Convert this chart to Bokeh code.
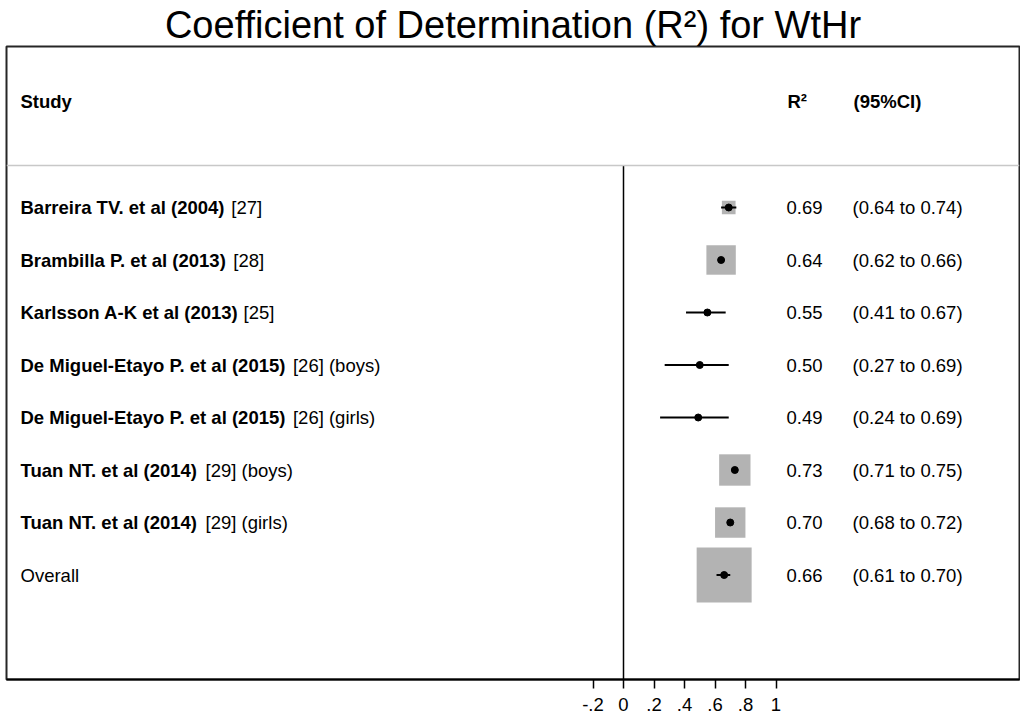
from bokeh.plotting import figure
from bokeh.models import ColumnDataSource, Range1d, Span, FixedTicker
from bokeh.core.properties import value
from bokeh.embed import file_html
from bokeh.resources import INLINE

# ---------------- data ----------------
study_names = ["Barreira TV. et al (2004)", "Brambilla P. et al (2013)",
               "Karlsson A-K et al (2013)", "De Miguel-Etayo P. et al (2015)",
               "De Miguel-Etayo P. et al (2015)", "Tuan NT. et al (2014)",
               "Tuan NT. et al (2014)"]
study_refs = ["[27]", "[28]", "[25]", "[26] (boys)", "[26] (girls)",
              "[29] (boys)", "[29] (girls)"]
r2 = [0.69, 0.64, 0.55, 0.50, 0.49, 0.73, 0.70]
ci_low = [0.64, 0.62, 0.41, 0.27, 0.24, 0.71, 0.68]
ci_high = [0.74, 0.66, 0.67, 0.69, 0.69, 0.75, 0.72]
weights = [6.2, 28.6, 1.1, 0.5, 0.5, 32.5, 30.5]   # percent weights
overall_label = "Overall"
overall_r2 = 0.66
overall_low = 0.61
overall_high = 0.70
overall_weight = 100.0
tick_values = [-0.2, 0, 0.2, 0.4, 0.6, 0.8, 1]
tick_labels = ["-.2", "0", ".2", ".4", ".6", ".8", "1"]
title_text = "Coefficient of Determination (R\u00b2) for WtHr"

# ---------------- layout helpers ----------------
FONT = "Liberation Sans"
FS = 18.5
W, H = 1020, 716
FRAME_L, FRAME_R = 6, 1019       # page px
FRAME_T, FRAME_B = 46, 679
ZERO_PX, PX_PER_UNIT = 623, 152.5
ROW1_PX, ROW_STEP = 207, 52.5

def xd(px):
    return (px - ZERO_PX) / PX_PER_UNIT

def yd(px):
    return 1 + (px - ROW1_PX) / ROW_STEP

BOLD_W = {" ": 278, "(": 333, ")": 333, "-": 333, ".": 278,
          "A": 722, "B": 722, "D": 722, "E": 667, "K": 722, "M": 833, "N": 722,
          "P": 667, "T": 611, "V": 667, "a": 556, "b": 611, "e": 556, "g": 611,
          "i": 278, "l": 278, "m": 889, "n": 611, "o": 611, "r": 389, "s": 556,
          "t": 333, "u": 611, "y": 556}
for d in "0123456789":
    BOLD_W[d] = 556

def bold_width(s):
    return sum(BOLD_W.get(c, 600) for c in s) * FS / 1000.0

n = len(r2)
rows = [i + 1 for i in range(n)]
overall_row = n + 1

p = figure(width=W, height=H, output_backend="svg", toolbar_location=None,
           x_range=Range1d(xd(FRAME_L), xd(FRAME_R)),
           y_range=Range1d(yd(FRAME_B), yd(FRAME_T)),
           y_axis_location=None, min_border_left=FRAME_L, min_border_right=W - FRAME_R,
           min_border_top=FRAME_T, min_border_bottom=H - FRAME_B)
p.title.text = title_text
p.title.align = "center"
p.title.text_font = FONT
p.title.text_font_size = "38px"
p.title.text_font_style = "normal"
p.title.text_color = "black"
p.title.standoff = 1

p.grid.visible = False
p.outline_line_color = "#262626"
p.outline_line_width = 2
p.background_fill_color = "white"
p.border_fill_color = "white"

ax = p.xaxis[0]
ax.ticker = FixedTicker(ticks=tick_values)
ax.major_label_overrides = {v: l for v, l in zip(tick_values, tick_labels)}
ax.major_tick_out = 9
ax.major_tick_in = 0
ax.minor_tick_out = 0
ax.minor_tick_in = 0
ax.major_tick_line_width = 1.5
ax.major_tick_line_color = "black"
ax.axis_line_color = "black"
ax.axis_line_width = 2
ax.major_label_standoff = 9
ax.major_label_text_font = FONT
ax.major_label_text_font_size = "18.5px"
ax.major_label_text_color = "black"

# header separator and zero line
sep_y = yd(165)
p.add_layout(Span(location=sep_y, dimension="width", line_color="#c8c8c8", line_width=1.5))
p.segment(x0=[0], y0=[sep_y], x1=[0], y1=[yd(FRAME_B)], line_color="black", line_width=1.5)

# weight boxes
box_src = ColumnDataSource(dict(x=r2 + [overall_r2], y=rows + [overall_row],
                                s=[5.5 * w ** 0.5 for w in weights + [overall_weight]]))
p.scatter("x", "y", size="s", marker="square", source=box_src,
          fill_color="#b3b3b3", line_color=None)

# CI lines and points
ci_src = ColumnDataSource(dict(x0=ci_low + [overall_low], x1=ci_high + [overall_high],
                               y=rows + [overall_row], x=r2 + [overall_r2]))
p.segment("x0", "y", "x1", "y", source=ci_src, line_color="black", line_width=2)
p.scatter("x", "y", size=7, marker="circle", source=ci_src,
          fill_color="black", line_color="black")

# header
hdr = ColumnDataSource(dict(x=[xd(20), xd(787), xd(853)], y=[yd(101)] * 3,
                            t=["Study", "R\u00b2", "(95%CI)"]))
p.text("x", "y", text="t", source=hdr, text_font=value(FONT), text_font_size=f"{FS}px",
       text_font_style="bold", text_baseline="middle", text_align="left", text_color="black")

# study labels (bold part + regular part)
lab_src = ColumnDataSource(dict(x=[xd(20)] * n, y=rows, t=study_names))
p.text("x", "y", text="t", source=lab_src, text_font=value(FONT), text_font_size=f"{FS}px",
       text_font_style="bold", text_baseline="middle", text_align="left", text_color="black")
ref_src = ColumnDataSource(dict(x=[xd(20)] * n, y=rows, t=study_refs,
                                off=[bold_width(s + " ") for s in study_names]))
p.text("x", "y", text="t", x_offset="off", source=ref_src, text_font=value(FONT),
       text_font_size=f"{FS}px", text_baseline="middle", text_align="left", text_color="black")
p.text(x=[xd(20)], y=[overall_row], text=[overall_label], text_font=value(FONT),
       text_font_size=f"{FS}px", text_baseline="middle", text_align="left", text_color="black")

# value columns
est_txt = [f"{v:.2f}" for v in r2 + [overall_r2]]
ci_txt = [f"({a:.2f} to {b:.2f})" for a, b in zip(ci_low + [overall_low], ci_high + [overall_high])]
val_src = ColumnDataSource(dict(xe=[xd(786)] * (n + 1), xc=[xd(852)] * (n + 1),
                                y=rows + [overall_row], e=est_txt, c=ci_txt))
p.text("xe", "y", text="e", source=val_src, text_font=value(FONT), text_font_size=f"{FS}px",
       text_baseline="middle", text_align="left", text_color="black")
p.text("xc", "y", text="c", source=val_src, text_font=value(FONT), text_font_size=f"{FS}px",
       text_baseline="middle", text_align="left", text_color="black")

open("out.html", "w").write(file_html(p, INLINE))
